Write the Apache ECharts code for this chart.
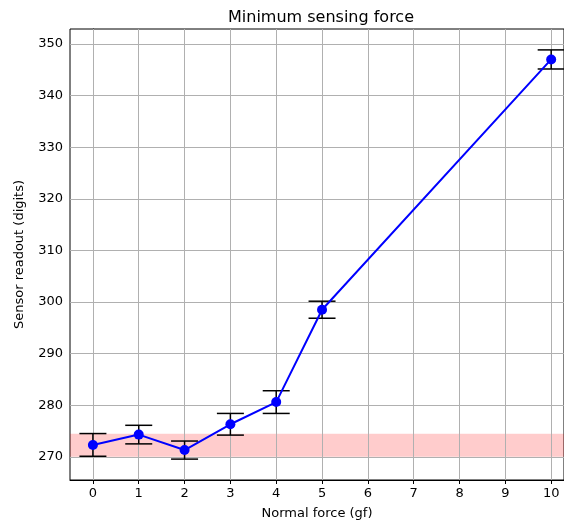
<!DOCTYPE html>
<html>
<head>
<meta charset="utf-8">
<script src="https://cdn.jsdelivr.net/npm/echarts@6/dist/echarts.min.js"></script>
<style>
  html, body { margin: 0; padding: 0; background: #fff; }
  #chart { width: 564px; height: 521px; }
</style>
</head>
<body>
<div id="chart"></div>
<script>
  // measured values
  const forces = [0, 1, 2, 3, 4, 5, 10]
  const readouts = [272.3, 274.3, 271.3, 276.3, 280.6, 298.5, 347.0]
  const errors = [2.2, 1.8, 1.75, 2.1, 2.2, 1.65, 1.85]
  const noiseBand = [270, 274.46]
  const xTicks = [0, 1, 2, 3, 4, 5, 6, 7, 8, 9, 10]
  const yTicks = [270, 280, 290, 300, 310, 320, 330, 340, 350]

  const font = 'DejaVu Sans'
  const chart = echarts.init(document.getElementById('chart'))

  const gridLines = xTicks.map(v => ({ xAxis: v }))
    .concat(yTicks.map(v => ({ yAxis: v })))

  chart.setOption({
    animation: false,
    title: {
      text: 'Minimum sensing force',
      left: 316, top: 5, textAlign: 'center',
      textStyle: { fontFamily: font, fontSize: 16, fontWeight: 'normal', color: '#000' }
    },
    grid: {
      left: 70, right: 0, top: 29, bottom: 41,
      outerBoundsMode: 'none', containLabel: false,
      show: true, borderColor: '#000', borderWidth: 1
    },
    xAxis: {
      type: 'value', min: -0.5, max: 10.28,
      name: 'Normal force (gf)', nameLocation: 'middle', nameGap: 27,
      nameTextStyle: { fontFamily: font, fontSize: 13, color: '#000' },
      axisLine: { show: true, lineStyle: { color: '#000' } },
      axisTick: { show: true, customValues: xTicks, length: 4, lineStyle: { color: '#000' } },
      axisLabel: { customValues: xTicks, fontFamily: font, fontSize: 13, color: '#000', margin: 7 },
      splitLine: { show: false }
    },
    yAxis: {
      type: 'value', min: 265.5, max: 352.9,
      name: 'Sensor readout (digits)', nameLocation: 'middle', nameGap: 44,
      nameTextStyle: { fontFamily: font, fontSize: 13, color: '#000' },
      axisLine: { show: true, lineStyle: { color: '#000' } },
      axisTick: { show: true, customValues: yTicks, length: 4, lineStyle: { color: '#000' } },
      axisLabel: { customValues: yTicks, fontFamily: font, fontSize: 13, color: '#000', margin: 7 },
      splitLine: { show: false }
    },
    series: [
      {
        type: 'custom',
        z: 2,
        silent: true,
        data: forces.map((f, i) => [f, readouts[i] - errors[i], readouts[i] + errors[i]]),
        renderItem: function (params, api) {
          const lo = api.coord([api.value(0), api.value(1)])
          const hi = api.coord([api.value(0), api.value(2)])
          const w = 13.5
          const st = { stroke: '#000', lineWidth: 1.5 }
          return {
            type: 'group',
            children: [
              { type: 'line', shape: { x1: lo[0], y1: lo[1], x2: hi[0], y2: hi[1] }, style: st },
              { type: 'line', shape: { x1: lo[0] - w, y1: lo[1], x2: lo[0] + w, y2: lo[1] }, style: st },
              { type: 'line', shape: { x1: hi[0] - w, y1: hi[1], x2: hi[0] + w, y2: hi[1] }, style: st }
            ]
          }
        }
      },
      {
        type: 'line',
        z: 3,
        data: forces.map((f, i) => [f, readouts[i]]),
        symbol: 'circle',
        symbolSize: 10,
        lineStyle: { color: '#0000ff', width: 2 },
        itemStyle: { color: '#0000ff' },
        markLine: {
          silent: true, symbol: 'none', label: { show: false }, z: 1,
          lineStyle: { color: '#b0b0b0', width: 1, type: 'solid' },
          data: gridLines
        },
        markArea: {
          silent: true,
          itemStyle: { color: 'rgba(255,0,0,0.2)' },
          data: [[{ yAxis: noiseBand[0] }, { yAxis: noiseBand[1] }]]
        }
      }
    ]
  })
</script>
</body>
</html>
